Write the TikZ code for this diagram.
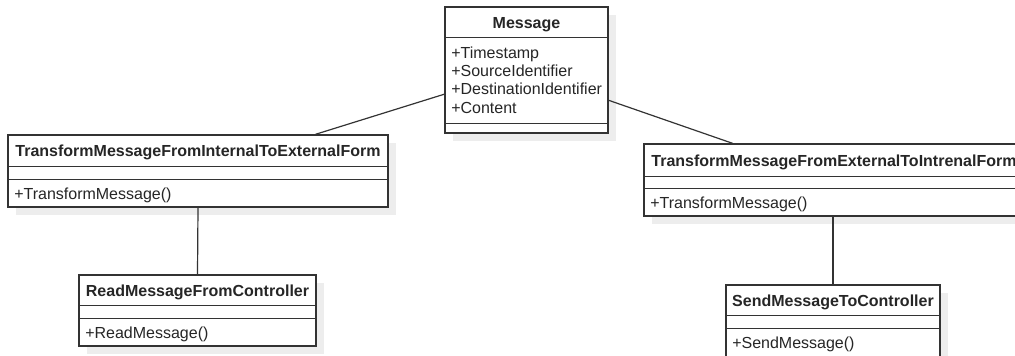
\documentclass[tikz,border=0pt]{standalone}
\usepackage{fontspec}
\setmainfont{Liberation Sans}
\usetikzlibrary{fit,calc,shadows}
\begin{document}
\begin{tikzpicture}[x=0.75pt, y=-0.75pt,
  classbox/.style={draw=black!80, line width=1pt, fill=white, inner sep=0pt,
    drop shadow={shadow xshift=6pt, shadow yshift=-6pt, fill=black!7, opacity=1}},
  divider/.style={draw=black!80, line width=1pt},
  classname/.style={font=\fontsize{12}{14}\selectfont\bfseries, text=black!85, anchor=base, inner sep=0pt},
  member/.style={font=\fontsize{12}{14}\selectfont, text=black!85, anchor=base west, inner sep=0pt},
  assoc/.style={draw=black!80, line width=0.9pt}]
\useasboundingbox (0,0) rectangle (1015,356);
\clip (0,0) rectangle (1015,356);

% Message
\node[classbox, fit={(445,7) (608,133)}] (msg) {};
\draw[divider] ($(msg.north west)+(0,31)$) -- ($(msg.north east)+(0,31)$);
\draw[divider] ($(msg.south west)+(0,-10)$) -- ($(msg.south east)+(0,-10)$);
\node[classname] (msg-name) at (526.5,28.3) {Message};
\node[member] (msg-a1) at (451,58.3) {+Timestamp};
\node[member] (msg-a2) at (451,76.6) {+SourceIdentifier};
\node[member] (msg-a3) at (451,94.9) {+DestinationIdentifier};
\node[member] (msg-a4) at (451,113.2) {+Content};

% Internal -> external transform
\node[classbox, fit={(8,135) (388,207)}] (tie) {};
\draw[divider] ($(tie.north west)+(0,32)$) -- ($(tie.north east)+(0,32)$);
\draw[divider] ($(tie.north west)+(0,45)$) -- ($(tie.north east)+(0,45)$);
\node[classname] (tie-name) at (198,156.8) {TransformMessageFromInternalToExternalForm};
\node[member] (tie-m1) at (14,199.3) {+TransformMessage()};

% External -> internal transform
\node[classbox, fit={(644,144) (1024,216)}] (tei) {};
\draw[divider] ($(tei.north west)+(0,33)$) -- ($(tei.north east)+(0,33)$);
\draw[divider] ($(tei.north west)+(0,45)$) -- ($(tei.north east)+(0,45)$);
\node[classname] (tei-name) at (834,166.3) {TransformMessageFromExternalToIntrenalForm};
\node[member] (tei-m1) at (650,208.3) {+TransformMessage()};

% Controller reader
\node[classbox, fit={(79,275) (316,346)}] (rd) {};
\draw[divider] ($(rd.north west)+(0,31)$) -- ($(rd.north east)+(0,31)$);
\draw[divider] ($(rd.north west)+(0,44)$) -- ($(rd.north east)+(0,44)$);
\node[classname] (rd-name) at (197.5,296.3) {ReadMessageFromController};
\node[member] (rd-m1) at (85,338.3) {+ReadMessage()};

% Controller sender
\node[classbox, fit={(726,285) (940,357)}] (sd) {};
\draw[divider] ($(sd.north west)+(0,31)$) -- ($(sd.north east)+(0,31)$);
\draw[divider] ($(sd.north west)+(0,44)$) -- ($(sd.north east)+(0,44)$);
\node[classname] (sd-name) at (833,306.3) {SendMessageToController};
\node[member] (sd-m1) at (732,348.3) {+SendMessage()};

% Associations
\draw[assoc] ($(msg.north west)!0.69!(msg.south west)$) -- ($(tie.north west)!0.808!(tie.north east)$);
\draw[assoc] ($(msg.north east)!0.738!(msg.south east)$) -- ($(tei.north west)!0.234!(tei.north east)$);
\draw[assoc] (tie.south) -- (rd.north);
\draw[assoc] (sd.north |- tei.south) -- (sd.north);
\end{tikzpicture}
\end{document}
